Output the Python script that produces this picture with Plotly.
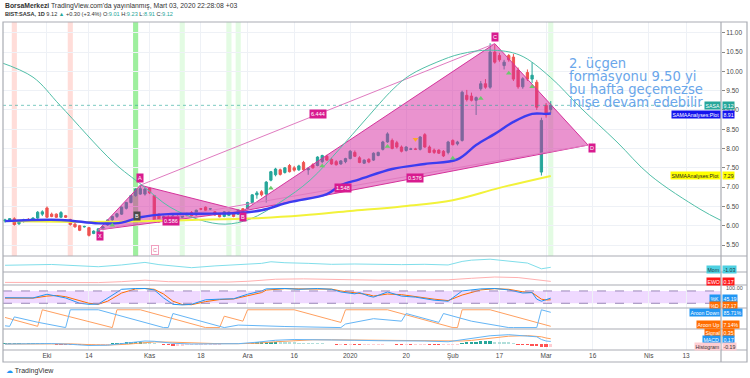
import pandas as pd
import plotly.graph_objects as go
from plotly.subplots import make_subplots

# ---------------- calendar (trading bars) ----------------
HOLIDAYS = ["2019-10-29", "2020-01-01"]
CAL = [d.strftime("%Y-%m-%d") for d in pd.bdate_range("2019-09-18", "2020-05-15")
       if d.strftime("%Y-%m-%d") not in HOLIDAYS]
POS = {d: i for i, d in enumerate(CAL)}

tick_dates = ["2019-10-01", "2019-10-14", "2019-11-01", "2019-11-18", "2019-12-02", "2019-12-16",
              "2020-01-02", "2020-01-20", "2020-02-03", "2020-02-17", "2020-03-02", "2020-03-16",
              "2020-04-01", "2020-04-13"]
tick_text = ["Eki", "14", "Kas", "18", "Ara", "16", "2020", "20", "Şub", "17", "Mar", "16", "Nis", "13"]

# ---------------- candles (BIST:SASA 1D) ----------------
opens = [6.12, 6.15, 6.18, 6.05, 6.12, 6.15, 6.12, 6.20, 6.30, 6.46,
         6.30, 6.30, 6.22, 6.26, 6.16, 6.04, 6.00, 5.97, 5.95, 5.80,
         5.83, 5.92, 6.02, 6.15, 6.24, 6.30, 6.45, 6.60, 6.78, 6.82,
         6.82, 6.97, 6.78, 6.30, 6.20, 6.22, 6.20, 6.24, 6.22, 6.30,
         6.34, 6.28, 6.44, 6.48, 6.43, 6.36, 6.30, 6.24, 6.27, 6.31,
         6.30, 6.44, 6.45, 6.60, 6.80, 6.88, 6.82, 7.18, 7.32, 7.45,
         7.38, 7.56, 7.50, 7.45, 7.64, 7.45, 7.58, 7.56, 7.66, 7.80,
         7.72, 7.66, 7.60, 7.66, 7.74, 7.90, 7.76, 7.62, 7.72, 7.70,
         7.82, 7.98, 8.17, 8.21, 8.15, 8.04, 7.95, 7.98, 7.99, 7.98,
         8.36, 8.04, 7.96, 7.96, 7.93, 7.90, 8.21, 8.12, 8.21, 9.38,
         9.36, 9.25, 9.55, 9.68, 9.59, 10.50, 10.41, 10.15, 10.41, 10.37,
         10.03, 9.60, 9.97, 9.80, 9.72, 7.39, 9.12, 9.01]
highs = [6.18, 6.20, 6.22, 6.15, 6.18, 6.20, 6.22, 6.38, 6.40, 6.50,
         6.34, 6.32, 6.38, 6.28, 6.18, 6.08, 6.02, 6.00, 5.97, 5.88,
         5.93, 5.99, 6.16, 6.26, 6.33, 6.50, 6.62, 6.80, 6.97, 7.06,
         6.98, 7.00, 6.80, 6.32, 6.26, 6.27, 6.28, 6.28, 6.33, 6.34,
         6.38, 6.42, 6.46, 6.50, 6.46, 6.38, 6.33, 6.38, 6.37, 6.33,
         6.42, 6.46, 6.62, 6.82, 6.90, 6.92, 7.16, 7.42, 7.50, 7.48,
         7.52, 7.60, 7.55, 7.58, 7.68, 7.52, 7.62, 7.80, 7.84, 7.84,
         7.76, 7.70, 7.70, 7.76, 7.96, 7.95, 7.80, 7.72, 7.75, 7.90,
         7.92, 8.20, 8.42, 8.26, 8.20, 8.08, 8.06, 8.02, 8.02, 8.32,
         8.40, 8.08, 8.00, 7.98, 7.96, 8.20, 8.24, 8.20, 9.50, 9.52,
         9.45, 9.35, 9.75, 9.80, 10.73, 10.70, 10.48, 10.30, 10.45, 10.45,
         10.10, 9.85, 10.05, 10.24, 9.78, 8.80, 9.18, 9.23]
lows = [6.08, 6.10, 6.00, 6.02, 6.08, 6.10, 6.10, 6.18, 6.25, 6.20,
        6.22, 6.20, 6.20, 6.20, 6.00, 5.95, 5.86, 5.95, 5.72, 5.78,
        5.75, 5.88, 6.00, 6.12, 6.20, 6.28, 6.42, 6.58, 6.75, 6.80,
        6.78, 6.82, 6.10, 6.08, 6.15, 6.18, 6.18, 6.20, 6.20, 6.24,
        6.24, 6.26, 6.40, 6.38, 6.40, 6.26, 6.22, 6.22, 6.25, 6.22,
        6.28, 6.34, 6.43, 6.58, 6.70, 6.76, 6.60, 7.15, 7.28, 7.30,
        7.35, 7.38, 7.40, 7.42, 7.42, 7.32, 7.48, 7.54, 7.62, 7.68,
        7.58, 7.56, 7.58, 7.62, 7.72, 7.78, 7.62, 7.60, 7.62, 7.68,
        7.80, 7.95, 8.15, 7.98, 8.00, 7.90, 7.92, 7.96, 7.96, 7.95,
        8.02, 7.88, 7.86, 7.86, 7.78, 7.85, 8.08, 8.08, 8.18, 9.22,
        9.22, 8.87, 9.50, 9.55, 9.55, 10.20, 10.25, 10.05, 10.25, 9.75,
        9.55, 9.55, 9.75, 9.70, 9.00, 7.30, 8.80, 8.91]
closes = [6.15, 6.18, 6.03, 6.12, 6.15, 6.12, 6.20, 6.35, 6.36, 6.22,
          6.24, 6.22, 6.34, 6.22, 6.03, 5.97, 5.88, 5.98, 5.75, 5.86,
          5.92, 5.97, 6.15, 6.24, 6.31, 6.48, 6.60, 6.78, 6.95, 6.96,
          6.95, 6.85, 6.13, 6.10, 6.23, 6.20, 6.25, 6.22, 6.31, 6.27,
          6.26, 6.40, 6.43, 6.40, 6.44, 6.28, 6.23, 6.36, 6.35, 6.24,
          6.40, 6.36, 6.60, 6.80, 6.85, 6.80, 7.13, 7.40, 7.47, 7.33,
          7.50, 7.40, 7.44, 7.55, 7.45, 7.48, 7.50, 7.78, 7.82, 7.70,
          7.60, 7.58, 7.68, 7.74, 7.93, 7.80, 7.64, 7.70, 7.65, 7.88,
          7.90, 8.17, 8.38, 8.00, 8.04, 7.93, 8.04, 7.99, 7.98, 8.30,
          8.04, 7.90, 7.90, 7.88, 7.81, 8.17, 8.10, 8.17, 9.46, 9.27,
          9.25, 9.32, 9.68, 9.59, 10.50, 10.24, 10.30, 10.24, 10.30, 9.80,
          9.60, 9.81, 9.80, 9.90, 9.07, 8.73, 8.87, 9.12]

# highlighted bars (indicator background)
hl_red_bars = [2, 14]
hl_green_strong_bars = [28]
hl_green_light_bars = [38, 48, 50, 117]

# signal triangles
up_sig_bars = [23, 57, 68, 82, 96, 102, 108, 113]
up_sig_price = [6.01, 6.97, 7.55, 8.05, 7.75, 9.30, 9.95, 9.60]
dn_sig_bars = [88]
dn_sig_price = [8.24]

# moving averages
sama_bars = [0, 12, 20, 25, 29, 35, 42, 50, 55, 61, 69, 72, 76, 83, 90, 97, 101, 105, 109, 113, 116, 117]
sama_vals = [6.12, 6.15, 6.06, 6.08, 6.22, 6.30, 6.31, 6.33, 6.40, 6.61, 6.82, 7.05, 7.20, 7.47, 7.60,
             7.72, 8.09, 8.38, 8.69, 8.90, 8.90, 8.91]
smma_bars = [0, 20, 40, 55, 64, 74, 85, 96, 106, 117]
smma_vals = [6.12, 6.10, 6.15, 6.20, 6.27, 6.38, 6.50, 6.66, 6.98, 7.29]

# long cycle curve
cycle_bars = [-1.1, 6, 11.8, 23.2, 29.4, 35.4, 41.8, 47.2, 52.5, 59, 65.4, 71.8, 77.2, 83.2, 86.8,
              92.6, 97.6, 104, 110.4, 116.9, 123.3, 131.2, 138.3, 149, 153.6]
cycle_vals = [10.24, 9.85, 9.12, 7.65, 7.05, 6.48, 6.15, 6.04, 6.17, 6.61, 7.18, 8.00, 8.74, 9.54, 9.90,
              10.24, 10.45, 10.55, 10.42, 9.85, 9.07, 8.17, 7.31, 6.43, 6.13]

# XABCD pattern
pat_names = ["X", "A", "B", "C", "D"]
pat_bars = [20, 29, 51, 105, 125]
pat_price = [5.89, 7.05, 6.38, 10.72, 8.09]
ratio_text = {"XB": "0.586", "AC": "6.444", "BD": "0.576", "XD": "1.548"}

# sub-pane indicators
mom_bars = [0, 5, 10, 15, 20, 25, 30, 33, 36, 40, 45, 50, 55, 57, 60, 65, 70, 75, 80, 85, 90, 95,
            98, 100, 104, 108, 112, 115, 117]
mom_vals = [-0.4, -0.3, -0.15, -0.5, -0.85, -0.3, 0.5, -0.2, -0.6, -1.15, -0.6, -0.15, 0.2, 0.7, 0.4,
            0.2, -0.1, 0.0, -0.2, -0.2, -0.1, -0.3, 0.8, 1.2, 1.5, 1.0, 0.3, -1.5, -1.03]

ewo_bars = [0, 10, 20, 25, 30, 35, 40, 48, 52, 58, 64, 70, 75, 80, 85, 90, 95, 100, 105, 110, 114, 117]
ewo_vals = [-0.1, -0.05, -0.15, 0.1, 0.5, 0.1, 0.0, 0.0, 0.2, 0.75, 0.85, 0.8, 0.6, 0.5, 0.55, 0.6,
            0.6, 1.0, 1.35, 1.2, 0.6, 0.17]

stoch_bars = [0, 3, 6, 9, 11, 13, 16, 18, 20, 22, 25, 28, 30, 32, 34, 36, 38, 40, 43, 46,
              49, 52, 55, 56, 60, 63, 67, 70, 72, 75, 76, 78, 79, 82, 85, 88, 92, 95, 98, 102,
              105, 108, 111, 113, 114, 115, 116, 117]
stoch_k = [47, 45, 46, 64, 55, 46, 20, 15, 16, 46, 88, 92, 92, 85, 46, 15, 12, 15, 37, 40,
           42, 64, 80, 90, 92, 88, 92, 88, 75, 66, 72, 55, 50, 75, 55, 50, 35, 30, 80, 90,
           92, 85, 70, 72, 40, 30, 38, 45.19]
stoch_d = [45, 46, 45, 55, 58, 52, 35, 20, 15, 30, 70, 90, 92, 88, 65, 30, 14, 13, 28, 38,
           41, 55, 72, 84, 91, 90, 90, 89, 80, 70, 70, 62, 55, 65, 62, 52, 40, 33, 60, 85,
           91, 88, 76, 72, 55, 40, 36, 37.17]

aroon_up_bars = [0, 7, 8, 23, 24, 29, 43, 46, 47, 51, 52, 62, 70, 72, 73, 82, 96, 97, 98, 104, 117]
aroon_up_vals = [57, 7, 100, 0, 100, 100, 0, 0, 64, 36, 100, 100, 43, 29, 100, 100, 0, 0, 100, 100, 7.14]
aroon_dn_bars = [0, 1, 2, 7, 13, 14, 20, 34, 35, 36, 47, 50, 60, 72, 73, 79, 85, 86, 93, 94, 100,
                 108, 109, 114, 115, 117]
aroon_dn_vals = [10, 7, 60, 30, 0, 100, 100, 0, 0, 79, 0, 14, 6, 0, 20, 50, 36, 79, 29, 79, 36,
                 0, 0, 0, 100, 85.71]

macd_bars = [0, 5, 10, 14, 18, 22, 26, 30, 32, 36, 40, 45, 50, 54, 58, 62, 66, 70, 75, 80,
             85, 90, 95, 98, 100, 104, 108, 112, 114, 115, 116, 117]
macd_vals = [0.0, 0.02, 0.03, -0.02, -0.1, -0.08, 0.05, 0.2, 0.18, 0.05, 0.0, 0.02, 0.02, 0.12, 0.25,
             0.3, 0.3, 0.28, 0.25, 0.22, 0.22, 0.2, 0.15, 0.28, 0.35, 0.55, 0.62, 0.55, 0.48, 0.3, 0.2, 0.17]
signal_vals = [0.0, 0.01, 0.02, 0.01, -0.04, -0.07, -0.02, 0.1, 0.14, 0.12, 0.06, 0.03, 0.02, 0.05, 0.15,
               0.24, 0.28, 0.28, 0.27, 0.24, 0.23, 0.22, 0.19, 0.2, 0.24, 0.38, 0.52, 0.56, 0.54, 0.48, 0.4, 0.35]
hist_vals = [0.01, 0.01, 0.02, 0.02, 0.01, 0.01, 0.01, 0.02, 0.02, 0.01,
             0.0, -0.01, -0.02, -0.03, -0.04, -0.05, -0.06, -0.06, -0.06, -0.05,
             -0.03, -0.02, -0.01, 0.01, 0.03, 0.05, 0.07, 0.09, 0.1, 0.11,
             0.1, 0.08, 0.04, 0.0, -0.03, -0.06, -0.08, -0.08, -0.07, -0.06,
             -0.05, -0.04, -0.03, -0.02, -0.02, -0.01, -0.01, 0.0, 0.0, 0.0,
             0.0, 0.01, 0.03, 0.06, 0.08, 0.1, 0.11, 0.12, 0.12, 0.11,
             0.1, 0.08, 0.07, 0.06, 0.05, 0.04, 0.03, 0.02, 0.01, 0.0,
             0.0, -0.01, -0.01, -0.02, -0.02, -0.03, -0.04, -0.04, -0.03, -0.03,
             -0.02, -0.01, 0.0, 0.0, -0.01, -0.02, -0.02, -0.03, -0.03, -0.03,
             -0.02, -0.03, -0.04, -0.05, -0.05, -0.04, -0.03, -0.02, 0.06, 0.1,
             0.13, 0.15, 0.17, 0.18, 0.18, 0.16, 0.13, 0.1, 0.07, 0.03,
             -0.01, -0.04, -0.06, -0.08, -0.12, -0.18, -0.22, -0.19]

price_ticks = [5.5, 6.0, 6.5, 7.0, 7.5, 8.0, 8.5, 9.0, 9.5, 10.0, 10.5, 11.0]

# ---------------- figure ----------------
W, H = 750, 378
ML, MR, MT, MB = 3, 29, 22, 28
PW, PH = W - ML - MR, H - MT - MB


def px(x):
    return (x - ML) / PW


def py(y):
    return (H - MB - y) / PH


fig = make_subplots(rows=6, cols=1, shared_xaxes=True, vertical_spacing=0)
bar_x = [POS[d] for d in CAL[:len(closes)]]
tick_x = [POS[d] for d in tick_dates]

UP, DN = "#26a69a", "#ef5350"
PINK = "#d81b8f"

# pattern triangles
tri1 = [0, 1, 2, 0]
tri2 = [2, 3, 4, 2]
for tri in (tri1, tri2):
    fig.add_trace(go.Scatter(x=[pat_bars[k] for k in tri], y=[pat_price[k] for k in tri],
                             mode="lines", fill="toself", fillcolor="rgba(214,40,160,0.5)",
                             line=dict(color="#d5339b", width=1), hoverinfo="skip"), row=1, col=1)
for a, b in ((1, 3), (0, 4)):
    fig.add_trace(go.Scatter(x=[pat_bars[a], pat_bars[b]], y=[pat_price[a], pat_price[b]],
                             mode="lines", line=dict(color="#e07bc0", width=1), hoverinfo="skip"),
                  row=1, col=1)

# cycle curve
fig.add_trace(go.Scatter(x=cycle_bars, y=cycle_vals, mode="lines", line_shape="spline",
                         line=dict(color="#52bfa8", width=1)), row=1, col=1)
# MAs
fig.add_trace(go.Scatter(x=smma_bars, y=smma_vals, mode="lines", line_shape="spline",
                         line=dict(color="#f2f23a", width=2)), row=1, col=1)
fig.add_trace(go.Scatter(x=sama_bars, y=sama_vals, mode="lines", line_shape="spline",
                         line=dict(color="#3c3cf0", width=2.4)), row=1, col=1)

# candles
fig.add_trace(go.Candlestick(x=bar_x, open=opens, high=highs, low=lows, close=closes,
                             increasing=dict(line=dict(color=UP, width=1), fillcolor=UP),
                             decreasing=dict(line=dict(color=DN, width=1), fillcolor=DN),
                             whiskerwidth=0), row=1, col=1)

# signals
fig.add_trace(go.Scatter(x=up_sig_bars, y=up_sig_price, mode="markers",
                         marker=dict(symbol="triangle-up", size=5, color="#6cc96c")), row=1, col=1)
fig.add_trace(go.Scatter(x=dn_sig_bars, y=dn_sig_price, mode="markers",
                         marker=dict(symbol="triangle-down", size=5, color="#ffa726")), row=1, col=1)

# sub panes
fig.add_trace(go.Scatter(x=mom_bars, y=mom_vals, mode="lines", line=dict(color="#80deea", width=1)), row=2, col=1)
fig.add_trace(go.Scatter(x=ewo_bars, y=ewo_vals, mode="lines", line=dict(color="#ffb0b0", width=1)), row=3, col=1)
fig.add_trace(go.Scatter(x=stoch_bars, y=stoch_d, mode="lines", line=dict(color="#ff6d00", width=1)), row=4, col=1)
fig.add_trace(go.Scatter(x=stoch_bars, y=stoch_k, mode="lines", line=dict(color="#2196f3", width=1)), row=4, col=1)
fig.add_trace(go.Scatter(x=aroon_up_bars, y=aroon_up_vals, mode="lines", line=dict(color="#ffa060", width=1)), row=5, col=1)
fig.add_trace(go.Scatter(x=aroon_dn_bars, y=aroon_dn_vals, mode="lines", line=dict(color="#64b5f6", width=1)), row=5, col=1)

hist_colors = []
for k, v in enumerate(hist_vals):
    prev = hist_vals[k - 1] if k else v
    if v >= 0:
        hist_colors.append("#26a69a" if v >= prev else "#b2dfdb")
    else:
        hist_colors.append("#ff5252" if v < prev else "#ffcdd2")
fig.add_trace(go.Bar(x=bar_x, y=hist_vals, marker=dict(color=hist_colors, line=dict(width=0)), width=0.7), row=6, col=1)
fig.add_trace(go.Scatter(x=macd_bars, y=signal_vals, mode="lines", line=dict(color="#ff9f5a", width=1)), row=6, col=1)
fig.add_trace(go.Scatter(x=macd_bars, y=macd_vals, mode="lines", line=dict(color="#64b5f6", width=1)), row=6, col=1)

# ---------------- layout ----------------
xr = [-0.43, 153.5]
fig.update_xaxes(range=xr, tickvals=tick_x, ticktext=tick_text, showgrid=True, gridcolor="#eef1f6",
                 gridwidth=1, zeroline=False, showline=False, rangeslider_visible=False, ticks="",
                 tickfont=dict(family="Liberation Sans", size=6.5, color="#4a4a4a"))
fig.update_yaxes(showgrid=False, zeroline=False, showticklabels=False, ticks="")
fig.update_layout(
    width=W, height=H, margin=dict(l=ML, r=MR, t=MT, b=MB),
    paper_bgcolor="white", plot_bgcolor="white", showlegend=False, bargap=0,
    font=dict(family="Liberation Sans", size=7, color="#4a4a4a"),
    yaxis=dict(domain=[py(256), 1], range=[5.215, 11.28], side="right", showticklabels=True,
               tickvals=price_ticks, tickformat=".2f", showgrid=True, gridcolor="#eef1f6",
               ticks="outside", ticklen=3, tickcolor="#888",
               tickfont=dict(size=6.5, color="#4a4a4a", family="Liberation Sans")),
    yaxis2=dict(domain=[py(272), py(256)], range=[-2.5, 2.5]),
    yaxis3=dict(domain=[py(285), py(272)], range=[-0.8, 2.7]),
    yaxis4=dict(domain=[py(308), py(285)], range=[-3, 109]),
    yaxis5=dict(domain=[py(329), py(308)], range=[-8, 110]),
    yaxis6=dict(domain=[0, py(329)], range=[-0.4, 1.0]),
)

shapes = []
for bars, col in ((hl_red_bars, "rgba(255,100,80,0.22)"),
                  (hl_green_strong_bars, "rgba(40,220,40,0.45)"),
                  (hl_green_light_bars, "rgba(60,230,60,0.14)")):
    for b in bars:
        shapes.append(dict(type="rect", xref="x", yref="y domain", x0=b - 0.55, x1=b + 0.55, y0=0, y1=1,
                           fillcolor=col, line=dict(width=0), layer="below"))
# last price line
shapes.append(dict(type="line", xref="x domain", yref="y", x0=0, x1=1, y0=closes[-1], y1=closes[-1],
                   line=dict(color="rgba(38,166,154,0.6)", width=1, dash="dot")))
# stoch band
shapes.append(dict(type="rect", xref="x4 domain", yref="y4", x0=0, x1=1, y0=20, y1=80,
                   fillcolor="rgba(153,21,255,0.16)", line=dict(width=0), layer="below"))
for lv in (20, 80):
    shapes.append(dict(type="line", xref="x4 domain", yref="y4", x0=0, x1=1, y0=lv, y1=lv,
                       line=dict(color="#9a86b8", width=1, dash="dash")))
# frame
FR = "#a9acb3"
shapes.append(dict(type="rect", xref="paper", yref="paper", x0=px(3), x1=px(747), y0=py(362), y1=py(22),
                   line=dict(color=FR, width=1.2)))
for yy in (256, 272, 285, 308, 329, 350):
    shapes.append(dict(type="line", xref="paper", yref="paper", x0=px(3), x1=px(747), y0=py(yy), y1=py(yy),
                       line=dict(color=FR, width=1.2)))
shapes.append(dict(type="line", xref="paper", yref="paper", x0=px(721), x1=px(721), y0=py(362), y1=py(22),
                   line=dict(color=FR, width=1.2)))
fig.update_layout(shapes=shapes)

ann = []
# header
ann.append(dict(xref="paper", yref="paper", x=px(3), y=py(5.5), xanchor="left", yanchor="middle",
                showarrow=False, font=dict(size=6.8, color="#333", family="Liberation Sans"),
                text="<b>BorsaMerkezi</b> TradingView.com'da yayınlanmış, Mart 03, 2020 22:28:08 +03"))
G = "#26a69a"
ann.append(dict(xref="paper", yref="paper", x=px(3), y=py(14.5), xanchor="left", yanchor="middle",
                showarrow=False, font=dict(size=5.6, color="#333", family="Liberation Sans"),
                text=(f"<b>BIST:SASA, 1D</b> 9.12 <span style='color:{G}'>▲</span> +0.30 (+3.4%) "
                      f"O:<span style='color:{G}'>9.01</span> H:<span style='color:{G}'>9.23</span> "
                      f"L:<span style='color:{G}'>8.91</span> C:<span style='color:{G}'>9.12</span>")))
# comment text
comment_lines = ["2. üçgen", "formasyonu 9.50 yi", "bu hafta geçemezse", "inişe devam edebilir"]
for k, line in enumerate(comment_lines):
    ann.append(dict(xref="paper", yref="paper", x=px(567), y=py(63 + 13.2 * k), xanchor="left",
                    yanchor="middle", showarrow=False, text=line,
                    font=dict(family="DejaVu Sans", size=13.2, color="#6aa6ea")))

# pattern labels
def plabel(x, y, text, bg=PINK, fc="white", yshift=0, xshift=0, yref="y"):
    ann.append(dict(x=x, y=y, xref="x", yref=yref, text=text, showarrow=False, bgcolor=bg,
                    font=dict(size=5.5, color=fc, family="Liberation Sans"), borderpad=1,
                    yshift=yshift, xshift=xshift))

shifts = {"X": (-6, 2), "A": (7, 0), "B": (-6, 0), "C": (7, 0), "D": (-3, 4)}
for n, b, p in zip(pat_names, pat_bars, pat_price):
    dy, dx = shifts[n]
    plabel(b, p, n, yshift=dy, xshift=dx)
pairs = {"XB": (0, 2), "AC": (1, 3), "BD": (2, 4), "XD": (0, 4)}
for key, (a, b) in pairs.items():
    plabel((pat_bars[a] + pat_bars[b]) / 2, (pat_price[a] + pat_price[b]) / 2, ratio_text[key])
plabel(28.3, 6.25, "B", bg="#4a4a4a")
ann.append(dict(x=32.2, y=5.37, xref="x", yref="y", text="C", showarrow=False,
                font=dict(size=5.5, color="#e57399"), bordercolor="#f0a0c0", borderwidth=1,
                borderpad=1, bgcolor="white"))

# axis value labels
def axlabel(ypos, name, value, bg, fc="white", yref="paper"):
    ann.append(dict(xref="paper", yref=yref, x=px(720.5), y=ypos, xanchor="right", yanchor="middle",
                    text=name, showarrow=False, bgcolor=bg, borderpad=0.5,
                    font=dict(size=5.2, color=fc, family="Liberation Sans")))
    ann.append(dict(xref="paper", yref=yref, x=px(722), y=ypos, xanchor="left", yanchor="middle",
                    text=value, showarrow=False, bgcolor=bg, borderpad=0.5,
                    font=dict(size=5.2, color=fc, family="Liberation Sans")))

axlabel(closes[-1], "SASA", "9.12", G, yref="y")
axlabel(sama_vals[-1] - 0.04, "SAMAAnalyses:Plot", "8.91", "#1414ee", yref="y")
axlabel(smma_vals[-1], "SMMAAnalyses:Plot", "7.29", "#ffff00", fc="#222", yref="y")
axlabel(py(269.5), "Mom", "-1.03", "#4dd0e1", fc="#1c3c40")
axlabel(py(281.5), "EWO", "0.17", "#ff1a1a")
axlabel(py(298.5), "%K", "45.19", "#2196f3")
axlabel(py(305.5), "%D", "37.17", "#ff6d00")
axlabel(py(312.5), "Aroon Down", "85.71%", "#2196f3")
axlabel(py(324.5), "Aroon Up", "7.14%", "#ff6d00")
axlabel(py(332.5), "Signal", "0.35", "#ff6d00")
axlabel(py(339), "MACD", "0.17", "#2196f3")
axlabel(py(346.5), "Histogram", "-0.19", "#ffcdd2", fc="#333")
ann.append(dict(xref="paper", yref="paper", x=px(724), y=py(287.5), xanchor="left", yanchor="middle",
                text="100.00", showarrow=False, font=dict(size=5.5, color="#555")))

# TradingView logo text
ann.append(dict(xref="paper", yref="paper", x=px(4), y=py(370.5), xanchor="left", yanchor="middle",
                showarrow=False, text="<span style='color:#2196f3'>☁</span> TradingView",
                font=dict(size=7, color="#333", family="Liberation Sans")))
fig.update_layout(annotations=ann)

fig.write_html("out.html", config={"displayModeBar": False},
               post_script="document.body.style.margin='0px';")
